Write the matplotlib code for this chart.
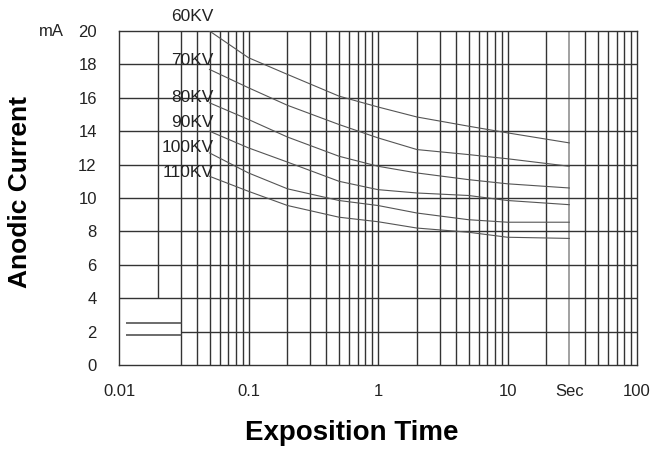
import matplotlib
matplotlib.use("Agg")
import matplotlib.pyplot as plt
import numpy as np

plt.rcParams['font.family'] = ['Liberation Sans', 'DejaVu Sans']

# ---- data ----
times = [0.05, 0.1, 0.2, 0.5, 1, 2, 5, 10, 30]
series_names = ["60KV", "70KV", "80KV", "90KV", "100KV", "110KV"]
kv60 = [20.0, 18.4, 17.4, 16.1, 15.45, 14.85, 14.3, 13.9, 13.3]
kv70 = [17.7, 16.6, 15.55, 14.4, 13.6, 12.9, 12.6, 12.35, 11.9]
kv80 = [15.7, 14.7, 13.65, 12.5, 11.9, 11.5, 11.1, 10.85, 10.6]
kv90 = [14.0, 13.0, 12.15, 11.0, 10.5, 10.3, 10.15, 9.85, 9.6]
kv100 = [12.7, 11.5, 10.55, 9.85, 9.55, 9.1, 8.7, 8.55, 8.55]
kv110 = [11.3, 10.4, 9.55, 8.85, 8.58, 8.2, 7.95, 7.65, 7.58]
label_y = [20.85, 18.26, 16.0, 14.5, 13.05, 11.5]

x_ticks = [0.01, 0.1, 1, 10, 30, 100]
x_tick_labels = ["0.01", "0.1", "1", "10", "Sec", "100"]
y_ticks = [0, 2, 4, 6, 8, 10, 12, 14, 16, 18, 20]
y_tick_labels = ["0", "2", "4", "6", "8", "10", "12", "14", "16", "18", "20"]

W, H = 663, 457
fig = plt.figure(figsize=(W / 100, H / 100), dpi=100)
ax = fig.add_axes([119 / W, 1 - 365 / H, (637 - 119) / W, (365 - 31) / H])
ax.set_xscale('log')
ax.set_xlim(0.01, 100)
ax.set_ylim(0, 20)

gc = '#333333'
# vertical grid lines
for dec in [0.01, 0.1, 1, 10]:
    for m in range(1, 10):
        v = dec * m
        if v <= 0.01:
            continue
        if abs(v - 0.02) < 1e-9:
            ax.vlines(v, 4, 20, color=gc, lw=1.0, zorder=1)
        elif abs(v - 30) < 1e-9:
            ax.vlines(v, 0, 20, color='#9a9a9a', lw=1.3, zorder=1)
        else:
            ax.vlines(v, 0, 20, color=gc, lw=1.0, zorder=1)
# horizontal grid lines
for yv in range(4, 20, 2):
    ax.hlines(yv, 0.01, 100, color=gc, lw=1.0, zorder=1)
ax.hlines(2, 0.03, 100, color=gc, lw=1.0, zorder=1)

# small legend-like marks in lower-left box
ax.hlines([2.5, 1.8], 0.0113, 0.0305, color='#444444', lw=1.1, zorder=2)

all_series = [kv60, kv70, kv80, kv90, kv100, kv110]
for name, vals, ly in zip(series_names, all_series, label_y):
    ax.plot(times, vals, color='#555555', lw=0.8, zorder=3)
    ax.text(0.054, ly, name, ha='right', va='center', fontsize=12.5,
            color='#222222', clip_on=False, zorder=4)

for s in ax.spines.values():
    s.set_color(gc)
    s.set_linewidth(1.0)

ax.set_xticks(x_ticks)
ax.set_xticklabels(x_tick_labels)
ax.set_xticks([], minor=True)
ax.set_yticks(y_ticks)
ax.set_yticklabels(y_tick_labels)
ax.tick_params(axis='both', length=0, labelsize=12, colors='#222222')
ax.tick_params(axis='y', pad=16)
ax.tick_params(axis='x', pad=14)

fig.text(51 / W, 1 - 31 / H, "mA", ha='center', va='center', fontsize=12, color='#222222')
fig.text(352 / W, 1 - 433 / H, "Exposition Time", ha='center', va='center',
         fontsize=20, fontweight='bold')
fig.text(20 / W, 1 - 192 / H, "Anodic Current", ha='center', va='center',
         fontsize=19, fontweight='bold', rotation=90)

fig.savefig("out.png", dpi=100)
